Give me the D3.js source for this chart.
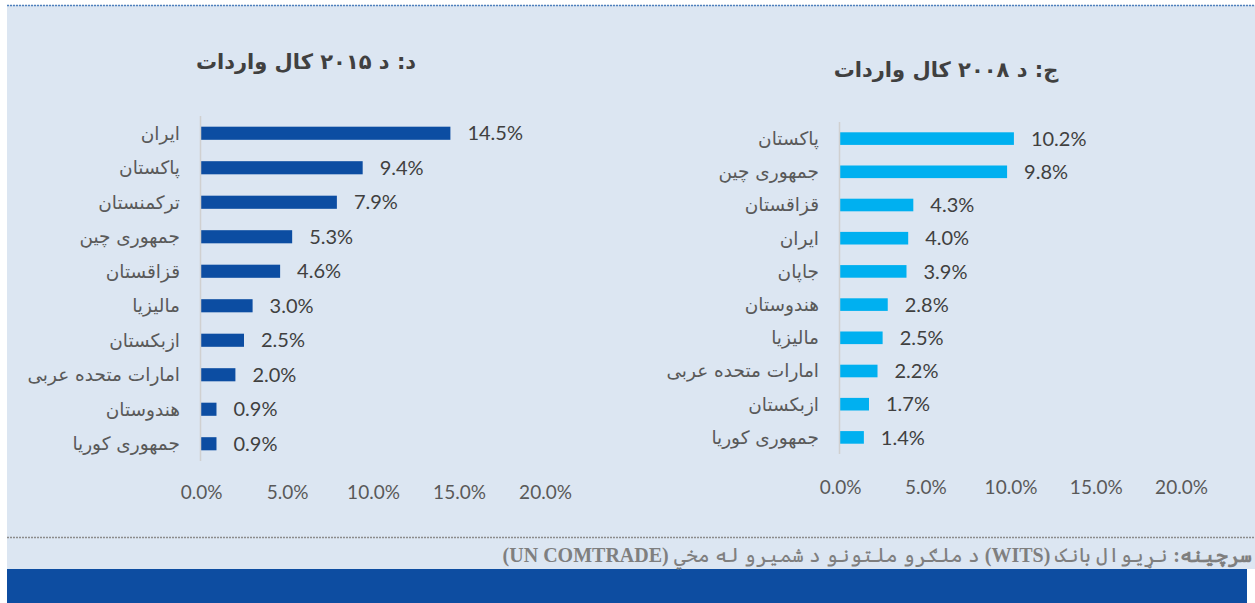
<!DOCTYPE html>
<html lang="ps">
<head>
<title>Imports 2015 / 2008</title>
<meta charset="utf-8">

<script src="https://d3js.org/d3.v7.min.js"></script>

<style type="text/css">

body {
	margin: 0;
	background: #fff;
	font-family: Lato, sans-serif;
}

#vis {
	position: relative;
	width: 1255px;
	height: 603px;
}

#source {
	position: absolute;
	right: 3px;
	top: 545px;
	line-height: 20px;
	direction: rtl;
	white-space: nowrap;
	font-family: "Liberation Serif", "DejaVu Serif", serif;
	font-size: 20px;
	color: #7f7f7f;
}

</style>

</head>

<body>

<div id="vis">
	<div id="source"><b>سرچینه:</b> نړیوال بانک <b>(WITS)</b> د ملګرو ملتونو د شمیرو له مخي <b>(UN COMTRADE)</b></div>
</div>


<script>


/* Data */
/* ==== */

var countries2015 = ['ایران', 'پاکستان', 'ترکمنستان', 'جمهوری چین', 'قزاقستان', 'مالیزیا', 'ازبکستان', 'امارات متحده عربی', 'هندوستان', 'جمهوری کوریا'];
var values2015 = [14.5, 9.4, 7.9, 5.3, 4.6, 3.0, 2.5, 2.0, 0.9, 0.9];

var countries2008 = ['پاکستان', 'جمهوری چین', 'قزاقستان', 'ایران', 'جاپان', 'هندوستان', 'مالیزیا', 'امارات متحده عربی', 'ازبکستان', 'جمهوری کوریا'];
var values2008 = [10.2, 9.8, 4.3, 4.0, 3.9, 2.8, 2.5, 2.2, 1.7, 1.4];

var xTicks = [0, 5, 10, 15, 20];

var title2015 = 'د: د ۲۰۱۵ کال واردات';
var title2008 = 'ج: د ۲۰۰۸ کال واردات';


/* Globals and SVG */
/* =============== */

var width = 1255,
		height = 603;

var svg = d3.select('#vis')
	.insert('svg', '#source')
		.attr('width', width)
		.attr('height', height)
		.style('display', 'block');


/* Functions */
/* ========= */

function drawFrame() {

	// light panel
	svg.append('rect')
		.attr('x', 7).attr('y', 5)
		.attr('width', width - 7).attr('height', 564)
		.attr('fill', '#dce6f2');

	// dotted top edge
	svg.append('line')
		.attr('x1', 7).attr('x2', width)
		.attr('y1', 5.5).attr('y2', 5.5)
		.attr('stroke', '#4f81bd')
		.attr('stroke-width', 1.5)
		.attr('stroke-dasharray', '2,1');

	// dotted separator above source
	svg.append('line')
		.attr('x1', 7).attr('x2', width)
		.attr('y1', 537.5).attr('y2', 537.5)
		.attr('stroke', '#8c8c8c')
		.attr('stroke-width', 1.5)
		.attr('stroke-dasharray', '2,1');

	// footer band
	svg.append('rect')
		.attr('x', 7).attr('y', 569)
		.attr('width', 1240).attr('height', height - 569)
		.attr('fill', '#0d4da1');

} // drawFrame()

function drawBars(opts) {

	var g = svg.append('g');

	var x = d3.scaleLinear()
		.domain([0, 20])
		.range([opts.x0, opts.x1]);

	var y = d3.scaleBand()
		.domain(opts.categories)
		.range([opts.y0, opts.y1])
		.paddingInner(0.62)
		.paddingOuter(0.31);

	var data = opts.categories.map(function(c, i) {
		return { name: c, value: opts.values[i] };
	});

	// title
	g.append('text')
		.attr('x', opts.titleX)
		.attr('y', opts.titleY)
		.attr('text-anchor', 'middle')
		.attr('direction', 'rtl')
		.style('font-family', '"DejaVu Sans", sans-serif')
		.style('font-weight', 'bold')
		.style('font-size', '21px')
		.style('fill', '#404040')
		.text(opts.title);

	// bars
	g.selectAll('.bar')
		.data(data)
		.enter().append('rect')
			.attr('class', 'bar')
			.attr('x', x(0))
			.attr('y', function(d) { return y(d.name); })
			.attr('width', function(d) { return x(d.value) - x(0); })
			.attr('height', y.bandwidth())
			.attr('fill', opts.color);

	// value labels
	g.selectAll('.val')
		.data(data)
		.enter().append('text')
			.attr('class', 'val')
			.attr('x', function(d) { return x(d.value) + 17; })
			.attr('y', function(d) { return y(d.name) + y.bandwidth() / 2; })
			.attr('dy', '0.36em')
			.style('font-size', '20px')
			.style('fill', '#404040')
			.text(function(d) { return d.value.toFixed(1) + '%'; });

	// category labels
	g.selectAll('.cat')
		.data(data)
		.enter().append('text')
			.attr('class', 'cat')
			.attr('x', x(0) - 21)
			.attr('y', function(d) { return y(d.name) + y.bandwidth() / 2; })
			.attr('dy', '0.35em')
			.attr('direction', 'rtl')
			.attr('text-anchor', 'start')
			.style('font-family', '"DejaVu Sans", sans-serif')
			.style('font-size', '18.5px')
			.style('fill', '#595959')
			.text(function(d) { return d.name; });

	// vertical category axis line
	g.append('line')
		.attr('x1', x(0) - 0.5).attr('x2', x(0) - 0.5)
		.attr('y1', opts.y0).attr('y2', opts.y1)
		.attr('stroke', '#d0d0d0')
		.attr('stroke-width', 1.5);

	// value axis (labels only)
	var axis = g.append('g')
		.attr('transform', 'translate(0,' + opts.axisY + ')')
		.call(d3.axisBottom(x)
			.tickValues(xTicks)
			.tickSize(0)
			.tickPadding(0)
			.tickFormat(function(d) { return d.toFixed(1) + '%'; }));

	axis.select('.domain').remove();
	axis.selectAll('text')
		.attr('dy', '0')
		.style('font-family', 'Lato, sans-serif')
		.style('font-size', '19px')
		.style('fill', '#595959');

} // drawBars()


/* Build */
/* ===== */

drawFrame();

drawBars({
	categories: countries2015,
	values: values2015,
	title: title2015,
	titleX: 306, titleY: 69,
	x0: 201, x1: 545,
	y0: 116, y1: 461,
	axisY: 499,
	color: '#0c4da2'
});

drawBars({
	categories: countries2008,
	values: values2008,
	title: title2008,
	titleX: 946, titleY: 77,
	x0: 840, x1: 1181,
	y0: 122, y1: 454,
	axisY: 494,
	color: '#00b0f0'
});


</script>

</body>
</html>
